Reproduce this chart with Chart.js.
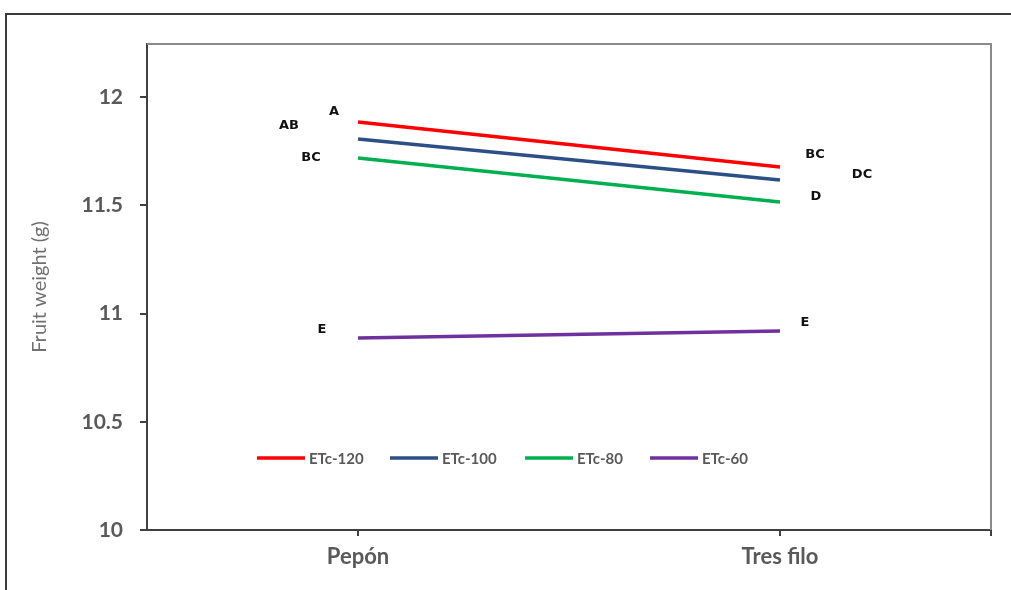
<!DOCTYPE html>
<html>
<head>
<meta charset="utf-8">
<script src="https://cdn.jsdelivr.net/npm/chart.js@4/dist/chart.umd.min.js"></script>
<style>
  html, body { margin: 0; padding: 0; background: #fff; }
  #wrap { position: relative; width: 1011px; height: 590px; overflow: hidden; }
  #frame { position: absolute; left: 5px; top: 13px; width: 1100px; height: 700px; border: 2px solid #3c3c3c; box-sizing: border-box; }
  canvas { position: absolute; left: 0; top: 0; }
</style>
</head>
<body>
<div id="wrap">
  <div id="frame"></div>
  <canvas id="chart" width="1011" height="590"></canvas>
</div>
<script>
// Datos
const categories = ['Pepón', 'Tres filo'];
const seriesNames = ['ETc-120', 'ETc-100', 'ETc-80', 'ETc-60'];
const etc120 = [11.885, 11.677];
const etc100 = [11.806, 11.617];
const etc80 = [11.718, 11.515];
const etc60 = [10.887, 10.919];
const yTicks = [10, 10.5, 11, 11.5, 12];

// Letras de significancia: categoría, valor, texto
const letterCat = [0, 0, 0, 0, 1, 1, 1, 1];
const letterVal = [11.931, 11.866, 11.718, 10.924, 11.732, 11.640, 11.538, 10.956];
const letterText = ['A', 'AB', 'BC', 'E', 'BC', 'DC', 'D', 'E'];
const letterDx = [-24, -69, -47, -36, 35, 82, 36, 25];

const colors = ['#ff0000', '#2b4f86', '#00b050', '#7030a0'];
const values = [etc120, etc100, etc80, etc60];

// Marco del área de trazado, letras y leyenda interna
const extras = {
    id: 'extras',
    beforeDatasetsDraw(chart) {
        const {ctx, chartArea: a} = chart;
        ctx.save();
        ctx.strokeStyle = '#8a8a8a';
        ctx.lineWidth = 2;
        ctx.beginPath();
        ctx.moveTo(a.left, a.top);
        ctx.lineTo(a.right, a.top);
        ctx.lineTo(a.right, a.bottom);
        ctx.stroke();
        ctx.strokeStyle = '#404040';
        ctx.beginPath();
        ctx.moveTo(a.right, a.bottom);
        ctx.lineTo(a.right, a.bottom + 6);
        ctx.stroke();
        ctx.restore();
    },
    afterDraw(chart) {
        const {ctx, scales} = chart;
        ctx.save();
        ctx.font = 'bold 13px "DejaVu Sans"';
        ctx.fillStyle = '#111';
        ctx.textAlign = 'center';
        ctx.textBaseline = 'middle';
        letterText.forEach((t, i) => {
            const x = scales.x.getPixelForValue(letterCat[i]) + letterDx[i];
            const y = scales.y.getPixelForValue(letterVal[i]);
            ctx.fillText(t, x, y);
        });

        const ly = 458;
        const starts = [257, 390, 525, 650];
        ctx.font = 'bold 15px Lato';
        ctx.textAlign = 'left';
        chart.data.datasets.forEach((ds, i) => {
            ctx.strokeStyle = ds.borderColor;
            ctx.lineWidth = 3.5;
            ctx.beginPath();
            ctx.moveTo(starts[i], ly);
            ctx.lineTo(starts[i] + 48, ly);
            ctx.stroke();
            ctx.fillStyle = '#595959';
            ctx.fillText(ds.label, starts[i] + 52, ly + 1);
        });
        ctx.restore();
    }
};

new Chart(document.getElementById('chart'), {
    type: 'line',
    data: {
        labels: categories,
        datasets: seriesNames.map((name, i) => ({
            label: name,
            data: values[i],
            borderColor: colors[i],
            backgroundColor: colors[i],
            borderWidth: 3.5,
            pointRadius: 0,
            tension: 0,
            fill: false
        }))
    },
    options: {
        responsive: false,
        animation: false,
        layout: { padding: { top: 44, right: 20, left: 28, bottom: 0 } },
        plugins: {
            legend: { display: false },
            tooltip: { enabled: false }
        },
        scales: {
            x: {
                offset: true,
                grid: { offset: false, drawOnChartArea: false, color: '#404040', lineWidth: 2, tickLength: 6 },
                border: { color: '#404040', width: 2 },
                ticks: { color: '#595959', font: { family: 'Lato', size: 22, weight: 'bold' }, padding: 8 },
                afterFit(s) { s.height = 60; }
            },
            y: {
                min: 10,
                max: 12.245,
                afterBuildTicks(s) { s.ticks = yTicks.map(v => ({ value: v })); },
                grid: { drawOnChartArea: false, color: '#404040', lineWidth: 2, tickLength: 7 },
                border: { color: '#404040', width: 2 },
                ticks: {
                    color: '#595959',
                    font: { family: 'Lato', size: 21, weight: 'bold' },
                    padding: 17,
                    callback: v => String(v)
                },
                title: {
                    display: true,
                    text: 'Fruit weight (g)',
                    color: '#707070',
                    font: { family: 'Lato', size: 20 },
                    padding: 0
                },
                afterFit(s) { s.width = 147 - 28; }
            }
        }
    },
    plugins: [extras]
});
</script>
</body>
</html>
